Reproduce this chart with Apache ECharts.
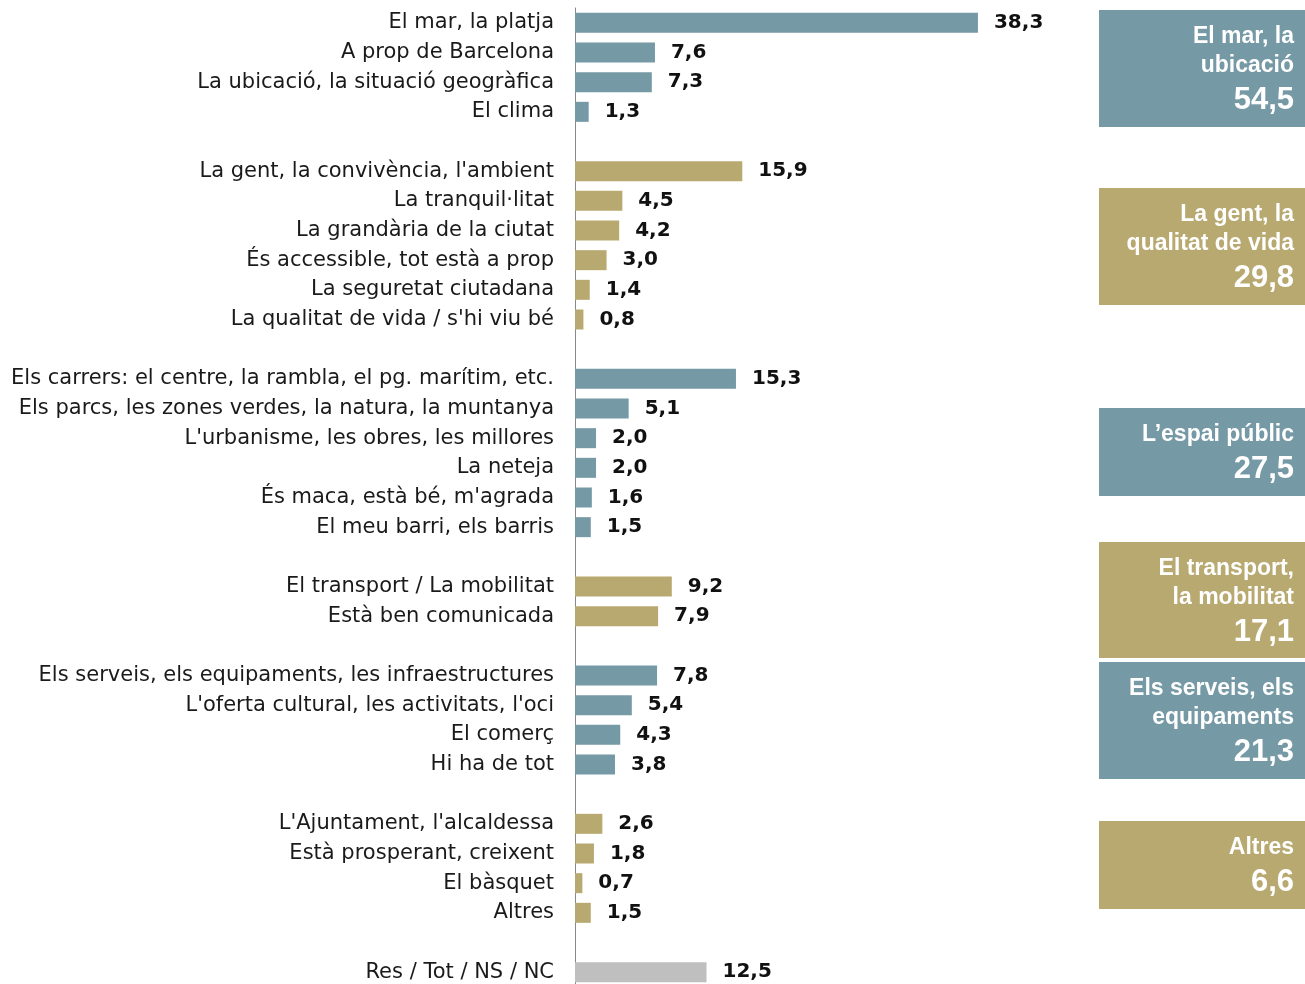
<!DOCTYPE html>
<html>
<head>
<meta charset="utf-8">
<script src="https://cdn.jsdelivr.net/npm/echarts@6/dist/echarts.min.js"></script>
<style>
  html, body { margin: 0; padding: 0; background: #fff; }
  #chart-container { width: 1305px; height: 984px; }
</style>
</head>
<body>
<div id="chart-container"></div>
<script>
let dom = document.getElementById("chart-container");
let myChart = echarts.init(dom, null, { renderer: "canvas" });

// the source uses a wide sans for the axis text, Arial for the boxes
const LABEL_FONT = "DejaVu Sans";
const BOX_FONT = "Liberation Sans";

// groups of answers (each group gets one colour, blank row between groups)
const groupLabels = [
  ["El mar, la platja", "A prop de Barcelona", "La ubicació, la situació geogràfica", "El clima"],
  ["La gent, la convivència, l'ambient", "La tranquil·litat", "La grandària de la ciutat",
   "És accessible, tot està a prop", "La seguretat ciutadana", "La qualitat de vida / s'hi viu bé"],
  ["Els carrers: el centre, la rambla, el pg. marítim, etc.", "Els parcs, les zones verdes, la natura, la muntanya",
   "L'urbanisme, les obres, les millores", "La neteja", "És maca, està bé, m'agrada", "El meu barri, els barris"],
  ["El transport / La mobilitat", "Està ben comunicada"],
  ["Els serveis, els equipaments, les infraestructures", "L'oferta cultural, les activitats, l'oci",
   "El comerç", "Hi ha de tot"],
  ["L'Ajuntament, l'alcaldessa", "Està prosperant, creixent", "El bàsquet", "Altres"],
  ["Res / Tot / NS / NC"],
];
const groupValues = [
  [38.3, 7.6, 7.3, 1.3],
  [15.9, 4.5, 4.2, 3.0, 1.4, 0.8],
  [15.3, 5.1, 2.0, 2.0, 1.6, 1.5],
  [9.2, 7.9],
  [7.8, 5.4, 4.3, 3.8],
  [2.6, 1.8, 0.7, 1.5],
  [12.5],
];
const groupColors = ["#7599a5", "#b8a970", "#7599a5", "#b8a970", "#7599a5", "#b8a970", "#bfbfbf"];

// summary boxes on the right
const boxTitles = [
  ["El mar, la", "ubicació"],
  ["La gent, la", "qualitat de vida"],
  ["L\u2019espai públic"],
  ["El transport,", "la mobilitat"],
  ["Els serveis, els", "equipaments"],
  ["Altres"],
];
const boxTotals = [54.5, 29.8, 27.5, 17.1, 21.3, 6.6];
const boxColors = ["#7599a5", "#b8a970", "#7599a5", "#b8a970", "#7599a5", "#b8a970"];
// layout of boxes (top, height) in px
const boxLayout = [[10, 117], [188, 117], [408, 88], [542, 116], [662, 117], [821, 88]];

const fmt = (v) => v.toFixed(1).replace(".", ",");

let categories = [];
let barData = [];
groupLabels.forEach((labels, g) => {
  if (g > 0) {
    categories.push(" ".repeat(g)); // spacer row
    barData.push("-");
  }
  labels.forEach((name, i) => {
    categories.push(name);
    barData.push({ value: groupValues[g][i], itemStyle: { color: groupColors[g] } });
  });
});

let graphics = [];
boxLayout.forEach(([top, h], i) => {
  graphics.push({
    type: "rect",
    left: 1099,
    top: top,
    shape: { width: 210, height: h },
    style: { fill: boxColors[i] },
  });
  boxTitles[i].forEach((line, j) => {
    graphics.push({
      type: "text",
      x: 1294,
      y: top + 27 + j * 29,
      style: {
        text: line,
        fill: "#fff",
        fontSize: 23,
        fontWeight: "bold",
        fontFamily: BOX_FONT,
        align: "right",
        verticalAlign: "middle",
      },
    });
  });
  graphics.push({
    type: "text",
    x: 1294,
    y: top + 27 + (boxTitles[i].length - 1) * 29 + 34,
    style: {
      text: fmt(boxTotals[i]),
      fill: "#fff",
      fontSize: 31,
      fontWeight: "bold",
      fontFamily: BOX_FONT,
      align: "right",
      verticalAlign: "middle",
    },
  });
});

let option = {
  animation: false,
  grid: { left: 575, top: 8, width: 505, height: 979, outerBoundsMode: "none" },
  xAxis: {
    type: "value",
    min: 0,
    max: 48,
    show: false,
  },
  yAxis: {
    type: "category",
    inverse: true,
    data: categories,
    axisLine: { show: true, lineStyle: { color: "#888", width: 1 } },
    axisTick: { show: false },
    splitLine: { show: false },
    axisLabel: {
      margin: 21,
      fontSize: 21,
      color: "#1a1a1a",
      fontFamily: LABEL_FONT,
      padding: [3, 0, 0, 0],
    },
  },
  series: [
    {
      type: "bar",
      barWidth: 20,
      data: barData,
      label: {
        show: true,
        position: "right",
        distance: 16,
        fontSize: 20,
        fontWeight: "bold",
        color: "#111",
        fontFamily: LABEL_FONT,
        padding: [3, 0, 0, 0],
        formatter: (p) => fmt(p.value),
      },
    },
  ],
  graphic: graphics,
};

myChart.setOption(option);
window.addEventListener("resize", myChart.resize);
</script>
</body>
</html>
